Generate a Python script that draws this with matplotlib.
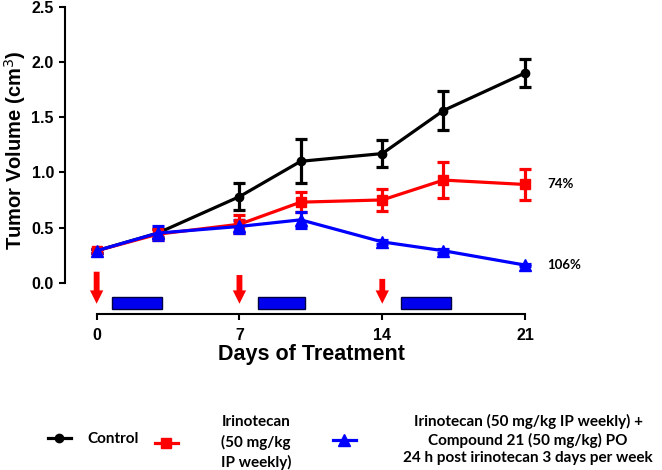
import matplotlib
matplotlib.use('Agg')
import matplotlib.pyplot as plt

# Данные: дни и объём опухоли (среднее и ошибка) для трёх групп
days = [0, 3, 7, 10, 14, 17, 21]
control = [0.29, 0.45, 0.78, 1.10, 1.17, 1.56, 1.90]
control_err = [0.02, 0.04, 0.12, 0.20, 0.12, 0.18, 0.13]
irino = [0.29, 0.44, 0.53, 0.73, 0.75, 0.93, 0.89]
irino_err = [0.02, 0.05, 0.08, 0.09, 0.10, 0.16, 0.14]
combo = [0.29, 0.45, 0.51, 0.57, 0.37, 0.29, 0.16]
combo_err = [0.02, 0.06, 0.06, 0.07, 0.02, 0.02, 0.01]

labels = ['Control',
          'Irinotecan\n(50 mg/kg\nIP weekly)',
          'Irinotecan (50 mg/kg IP weekly) +\nCompound 21 (50 mg/kg) PO\n24 h post irinotecan 3 days per week']
end_labels = ['74%', '106%']

# Введение иринотекана (стрелки) и курсы Compound 21 (полосы)
dose_days = [0, 7, 14]
dose_top = [0.10, 0.07, 0.035]
bar_starts = [0.75, 7.9, 14.9]
bar_lengths = [2.45, 2.3, 2.45]

sans = ['Liberation Sans', 'DejaVu Sans']
legfont = ['Lato', 'DejaVu Sans']

fig = plt.figure(figsize=(6.62, 4.7), dpi=100)
ax = fig.add_axes([0.0982, 0.3319, 0.7175, 0.6538])

c1 = ax.errorbar(days, control, yerr=control_err, color='black', marker='o', ms=6,
                 lw=2.3, elinewidth=2.3, capsize=4, capthick=2.3)
c2 = ax.errorbar(days, irino, yerr=irino_err, color='#ff0000', marker='s', ms=7,
                 lw=2.3, elinewidth=2.3, capsize=4, capthick=2.3)
c3 = ax.errorbar(days, combo, yerr=combo_err, color='#0000ff', marker='^', ms=8,
                 lw=2.3, elinewidth=2.3, capsize=4, capthick=2.3)

# Проценты у правого края
ax.text(22.1, irino[-1], end_labels[0], fontsize=9.5, fontweight='bold',
        family=legfont, va='center', ha='left')
ax.text(22.1, combo[-1], end_labels[1], fontsize=9.5, fontweight='bold',
        family=legfont, va='center', ha='left')

for d, top in zip(dose_days, dose_top):
    ax.annotate('', xy=(d, -0.19), xytext=(d, top),
                arrowprops=dict(arrowstyle='simple,head_length=0.8,head_width=0.8,tail_width=0.35',
                                mutation_scale=12, color='#ff0000', lw=0,
                                shrinkA=0, shrinkB=0))

ax.barh(-0.185, bar_lengths, left=bar_starts, height=0.105, color='#0000ee',
        edgecolor='#000044', linewidth=1)

ax.set_xlim(-1.55, 21.73)
ax.set_ylim(-0.283, 2.5)
ax.set_xticks([0, 7, 14, 21])
ax.set_yticks([0.0, 0.5, 1.0, 1.5, 2.0, 2.5])
ax.set_yticklabels(['0.0', '0.5', '1.0', '1.5', '2.0', '2.5'])

for s in ['top', 'right']:
    ax.spines[s].set_visible(False)
ax.spines['left'].set_bounds(0, 2.5)
ax.spines['bottom'].set_bounds(0, 21)
ax.spines['left'].set_linewidth(1.5)
ax.spines['bottom'].set_linewidth(1.5)
ax.tick_params(direction='out', length=4, width=1.5, labelsize=11.5)
ax.tick_params(axis='x', pad=6)
ax.tick_params(axis='y', pad=4)
for t in ax.get_xticklabels() + ax.get_yticklabels():
    t.set_family(sans)
    t.set_fontweight('bold')

ax.set_xlabel('Days of Treatment', fontsize=15.5, fontweight='bold', family=sans)
ax.set_ylabel('Tumor Volume (cm$^3$)', fontsize=14.5, fontweight='bold', family=sans)
ax.xaxis.set_label_coords(0.518, -0.133)
ax.yaxis.set_label_coords(-0.106, 0.534)
ax.xaxis.label.set_va('center')
ax.yaxis.label.set_va('center')

# Легенда внизу: три отдельные записи, как в оригинале
legend_pos = [(0.0725, 0.066), (0.234, 0.058), (0.503, 0.064)]
legend_pad = [1.1, 2.8, 3.1]
legend_size = [11, 11, 11]
legend_spacing = [1.3, 1.45, 1.3]
for cont, lab, pos, pad, size, ls in zip([c1, c2, c3], labels, legend_pos,
                                         legend_pad, legend_size, legend_spacing):
    leg = fig.legend([cont[0]], [lab], loc='center left', bbox_to_anchor=pos,
                     frameon=False, handlelength=1.5 * 11 / size, handletextpad=pad,
                     borderpad=0, borderaxespad=0,
                     prop={'family': legfont, 'weight': 'bold', 'size': size})
    for t in leg.get_texts():
        t.set_multialignment('center')
        t.set_linespacing(ls)

fig.savefig('out.png', dpi=100)
